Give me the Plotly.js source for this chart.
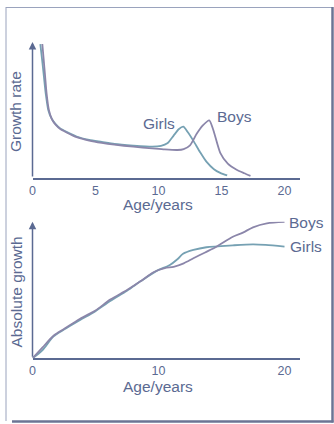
<!DOCTYPE html>
<html>
<head>
<meta charset="utf-8">
<script src="https://cdn.plot.ly/plotly-3.0.1.min.js"></script>
<style>html,body{margin:0;padding:0;background:#fff;}#chart{width:334px;height:424px;}</style>
</head>
<body>
<div id="chart"></div>
<script>
// Top panel: growth rate (relative units 0-100)
const rateGirlsAge = [0.62,0.75,0.9,1.05,1.25,1.5,1.8,2.2,2.7,3.5,4.5,5.5,6.5,8,9.5,10.2,10.7,11.2,11.6,11.97,12.3,12.76,13.3,13.8,14.4,14.9,15.45];
const rateGirls    = [98.5,88,75,62,50,44,40,36.5,34,30.5,28,26.5,25,23.8,23,23.6,25.5,31.2,35.8,37.7,34,27.5,19,12,6.5,3.8,1.9];
const rateBoysAge  = [0.78,0.88,1.0,1.12,1.3,1.55,1.85,2.2,2.7,3.5,4.5,5.5,6.5,8,9.5,10.5,11.5,12.0,12.5,13.03,13.5,14.03,14.35,14.9,15.5,16.2,16.8,17.3];
const rateBoys     = [98.5,88,75,62,50,43,39,36,33.5,30,27.5,25.8,24.5,23,21.8,21,20.6,21.3,24,32.5,38.5,42.4,35.3,18.5,10.5,6,3.5,1.6];

// Bottom panel: absolute growth (relative units 0-100)
const absBoysAge = [0,0.8,1.67,2.5,3.78,5,6.17,7.5,8.6,9.6,10.5,11.2,12,12.77,13.7,14.6,15.9,16.7,17.5,18.6,20];
const absBoys    = [0,8,16.5,21.5,29,35,43,50,56.5,63,66,67,69.5,73.2,77.5,81.7,89,92,95.9,98.8,99.8];
const absGirlsAge = [0,0.8,1.67,2.5,3.78,5,6.17,7.5,8.6,9.85,10.9,11.5,11.95,12.77,13.8,15.9,17.5,18.5,20];
const absGirls    = [0,6,16,21,28,34.5,42,49.5,56.5,64,68.3,72.5,76.5,79.3,81.3,82.7,83.4,83,81.7];

const topTicks = [0,5,10,15,20];
const bottomTicks = [0,10,20];

const txt = '#5b6a92';
const cGirls = '#76a1b3';
const cBoys = '#8b86aa';
const W = 334, H = 424;
const px = v => v / W;
const py = v => 1 - v / H;

const traces = [
  {x: rateGirlsAge, y: rateGirls, xaxis:'x', yaxis:'y', mode:'lines', line:{color:cGirls, width:1.8, shape:'spline', smoothing:0.6}},
  {x: rateBoysAge, y: rateBoys, xaxis:'x', yaxis:'y', mode:'lines', line:{color:cBoys, width:1.8, shape:'spline', smoothing:0.6}},
  {x: absGirlsAge, y: absGirls, xaxis:'x2', yaxis:'y2', mode:'lines', line:{color:cGirls, width:1.8, shape:'spline', smoothing:0.8}},
  {x: absBoysAge, y: absBoys, xaxis:'x2', yaxis:'y2', mode:'lines', line:{color:cBoys, width:1.8, shape:'spline', smoothing:0.8}}
];

const xBase = {range:[0,21.19], showgrid:false, zeroline:false, showline:true, linecolor:txt, linewidth:1.5,
  ticks:'', tickfont:{family:'Liberation Sans, Arial, sans-serif', size:12.5, color:txt}, fixedrange:true};
const yBase = {range:[0,100], showgrid:false, zeroline:false, showline:false, showticklabels:false, ticks:'', fixedrange:true};

const font = {family:'Liberation Sans, Arial, sans-serif', size:15.5, color:txt};
function label(text, x, y, angle) {
  return {text:text, xref:'paper', yref:'paper', x:px(x), y:py(y), xanchor:'center', yanchor:'middle',
    showarrow:false, font:font, textangle: angle||0};
}
function arrow(xr, yr) {
  return {text:'', xref:xr, yref:yr, axref:xr, ayref:yr, x:0, y:100, ax:0, ay:0, showarrow:true,
    arrowhead:2, arrowsize:1, arrowwidth:1.5, arrowcolor:txt, standoff:0, startstandoff:0};
}

const layout = {
  width:W, height:H, margin:{l:0,r:0,t:0,b:0}, paper_bgcolor:'#fff', plot_bgcolor:'rgba(0,0,0,0)', showlegend:false,
  xaxis: Object.assign({}, xBase, {domain:[px(32.5), px(299.5)], anchor:'y', tickvals: topTicks}),
  yaxis: Object.assign({}, yBase, {domain:[py(178), py(42)], anchor:'x'}),
  xaxis2: Object.assign({}, xBase, {domain:[px(32.5), px(299.5)], anchor:'y2', tickvals: bottomTicks}),
  yaxis2: Object.assign({}, yBase, {domain:[py(358.3), py(221.7)], anchor:'x2'}),
  annotations: [
    arrow('x','y'), arrow('x2','y2'),
    label('Growth rate', 16, 112, -90),
    label('Absolute growth', 16, 292.5, -90),
    label('Age/years', 158, 205),
    label('Age/years', 158, 386.5),
    label('Girls', 159, 123),
    label('Boys', 234, 117),
    label('Boys', 306.5, 222),
    label('Girls', 305.5, 246.5)
  ],
  shapes: [
    {type:'line', xref:'paper', yref:'paper', x0:px(6), x1:px(6), y0:py(7), y1:py(421), line:{color:'#9aa3bd', width:1}},
    {type:'line', xref:'paper', yref:'paper', x0:px(6), x1:px(332), y0:py(7.5), y1:py(7.5), line:{color:'#9aa3bd', width:1}},
    {type:'line', xref:'paper', yref:'paper', x0:px(12), x1:px(333.5), y0:py(421.5), y1:py(421.5), line:{color:'#6b7494', width:2.5}},
    {type:'line', xref:'paper', yref:'paper', x0:px(332.5), x1:px(332.5), y0:py(7), y1:py(422.5), line:{color:'#6b7494', width:2.5}}
  ]
};

Plotly.newPlot('chart', traces, layout, {staticPlot:true, displayModeBar:false});
</script>
</body>
</html>
